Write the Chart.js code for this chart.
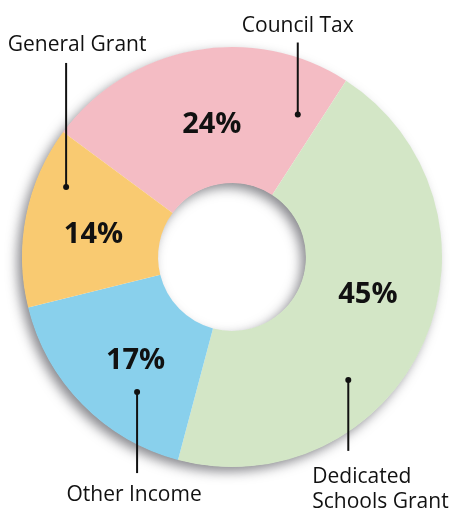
<!DOCTYPE html>
<html>
<head>
<meta charset="utf-8">
<script src="https://cdn.jsdelivr.net/npm/chart.js@4/dist/chart.umd.min.js"></script>
<style>
  html, body { margin: 0; padding: 0; background: #ffffff; }
  #wrap { width: 453px; height: 512px; position: relative; }
</style>
</head>
<body>
<div id="wrap"><canvas id="c"></canvas></div>
<script>
// ---- data ----
const categories = ['Council Tax', 'Dedicated Schools Grant', 'Other Income', 'General Grant'];
const values = [24, 45, 17, 14];
const percentLabels = ['24%', '45%', '17%', '14%'];
const calloutLines = [['Council Tax'], ['Dedicated', 'Schools Grant'], ['Other Income'], ['General Grant']];

// ---- style ----
const colors = ['#f4bcc4', '#d3e6c6', '#89d0ec', '#f9ca71'];
// where the percentage sits inside each slice (fraction along the arc, fraction across the ring)
const pctAngleFrac = [0.52, 0.444, 0.464, 0.472];
const pctRadFrac = [0.45, 0.49, 0.49, 0.49];
// callout: dot position inside slice (angle frac, radial frac), leader length, text placement
const callouts = [
  { af: 0.906, rf: 0.61, len: -72, align: 'center', dx: 0,   dy: -11 },
  { af: 0.64,  rf: 0.70, len: 71,  align: 'left',   dx: -36, dy: 32 },
  { af: 0.33,  rf: 0.67, len: 81,  align: 'center', dx: -3,  dy: 28 },
  { af: 0.73,  rf: 0.78, len: -124, align: 'center', dx: 11, dy: -12 }
];

const shadowPlugin = {
  id: 'ringShadow',
  beforeDatasetsDraw(chart) {
    const meta = chart.getDatasetMeta(0);
    if (!meta.data.length) return;
    const a = meta.data[0].getProps(['x', 'y', 'innerRadius', 'outerRadius'], true);
    const ctx = chart.ctx;
    ctx.save();
    ctx.shadowColor = 'rgba(40,40,50,0.55)';
    ctx.shadowBlur = 12;
    ctx.shadowOffsetX = -5;
    ctx.shadowOffsetY = 5;
    ctx.fillStyle = '#ffffff';
    ctx.beginPath();
    ctx.arc(a.x, a.y, a.outerRadius - 0.5, 0, Math.PI * 2);
    ctx.arc(a.x, a.y, a.innerRadius + 0.5, 0, Math.PI * 2, true);
    ctx.fill('evenodd');
    ctx.restore();
  }
};

const labelPlugin = {
  id: 'labels',
  afterDatasetsDraw(chart) {
    const ctx = chart.ctx;
    const meta = chart.getDatasetMeta(0);
    meta.data.forEach((arc, i) => {
      const p = arc.getProps(['x', 'y', 'startAngle', 'endAngle', 'innerRadius', 'outerRadius'], true);
      // percentage
      const am = p.startAngle + pctAngleFrac[i] * (p.endAngle - p.startAngle);
      const rm = p.innerRadius + pctRadFrac[i] * (p.outerRadius - p.innerRadius);
      ctx.save();
      ctx.fillStyle = '#111111';
      ctx.font = 'bold 29px "Open Sans", sans-serif';
      ctx.textAlign = 'center';
      ctx.textBaseline = 'middle';
      ctx.fillText(percentLabels[i], p.x + rm * Math.cos(am), p.y + rm * Math.sin(am) + 1.5);
      ctx.restore();

      // callout
      const c = callouts[i];
      const ac = p.startAngle + c.af * (p.endAngle - p.startAngle);
      const rc = p.innerRadius + c.rf * (p.outerRadius - p.innerRadius);
      const dx = p.x + rc * Math.cos(ac);
      const dy = p.y + rc * Math.sin(ac);
      const ey = dy + c.len;
      ctx.save();
      ctx.strokeStyle = '#111111';
      ctx.lineWidth = 2;
      ctx.beginPath();
      ctx.moveTo(dx, dy);
      ctx.lineTo(dx, ey);
      ctx.stroke();
      ctx.fillStyle = '#111111';
      ctx.beginPath();
      ctx.arc(dx, dy, 3, 0, Math.PI * 2);
      ctx.fill();
      ctx.font = '21px "Open Sans", sans-serif';
      ctx.textAlign = c.align;
      ctx.textBaseline = 'alphabetic';
      const lines = calloutLines[i];
      if (c.len < 0) {
        lines.forEach((t, k) => {
          ctx.fillText(t, dx + c.dx, ey + c.dy - (lines.length - 1 - k) * 25);
        });
      } else {
        lines.forEach((t, k) => {
          ctx.fillText(t, dx + c.dx, ey + c.dy + k * 25);
        });
      }
      ctx.restore();
    });
  }
};

new Chart(document.getElementById('c'), {
  type: 'doughnut',
  data: {
    labels: categories,
    datasets: [{
      data: values,
      backgroundColor: colors,
      borderWidth: 0,
      hoverOffset: 0
    }]
  },
  options: {
    responsive: true,
    maintainAspectRatio: false,
    animation: false,
    rotation: -53.5,
    cutout: '35.2%',
    layout: { padding: { left: 22, right: 11, top: 47, bottom: 45 } },
    plugins: {
      legend: { display: false },
      tooltip: { enabled: false }
    }
  },
  plugins: [shadowPlugin, labelPlugin]
});
</script>
</body>
</html>
